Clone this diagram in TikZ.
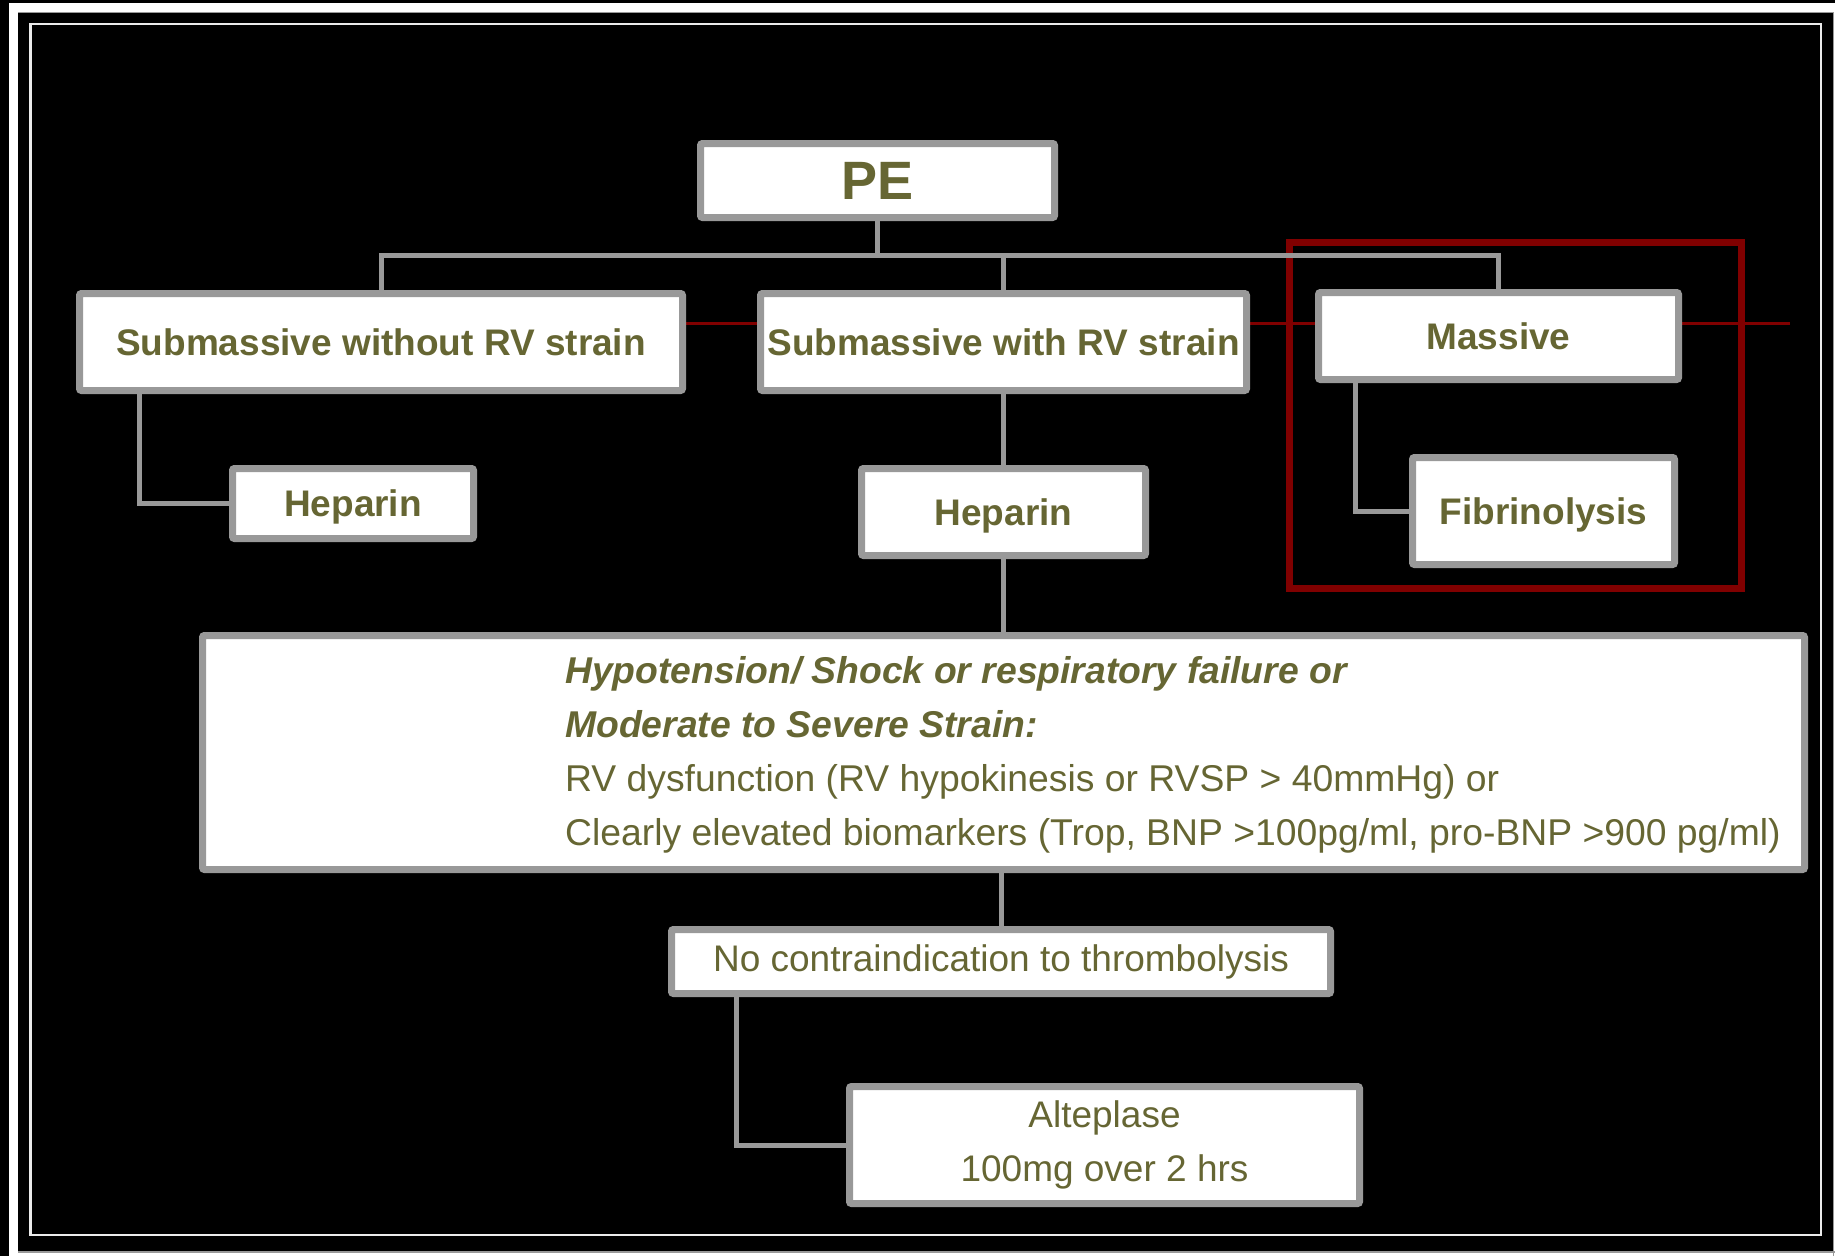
\documentclass[tikz,border=0pt]{standalone}
\usepackage{fontspec}
\setmainfont{Liberation Sans}
\usetikzlibrary{backgrounds}
\definecolor{olivetxt}{RGB}{102,102,51}
\definecolor{boxgray}{RGB}{153,153,153}
\definecolor{framered}{RGB}{128,0,0}
\definecolor{framewhite}{RGB}{235,235,235}
\begin{document}
\begin{tikzpicture}[x=1pt,y=-1pt,
  box/.style={draw=boxgray, line width=7pt, fill=white, rounded corners=2pt,
    inner sep=0pt, text=olivetxt, align=center,
    font=\fontsize{37}{54}\selectfont},
  boldbox/.style={box, font=\fontsize{37}{54}\selectfont\bfseries},
  conn/.style={draw=boxgray, line width=5pt},
  txt/.style={inner sep=0pt, text=olivetxt, align=left,
    font=\fontsize{37.3}{54}\selectfont}]
\useasboundingbox (0,0) rectangle (1835,1256);

% boxes
\node[boldbox, minimum width=354pt, minimum height=74pt, font=\fontsize{54}{60}\selectfont\bfseries] (pe) at (877.5,180.5) {PE};
\node[boldbox, minimum width=603pt, minimum height=97pt] (subwo) at (381,342) {Submassive without RV strain};
\node[boldbox, minimum width=486pt, minimum height=97pt] (subw) at (1003.5,342) {Submassive with RV strain};
\node[boldbox, minimum width=360pt, minimum height=87pt] (massive) at (1498.5,336) {Massive};
\node[boldbox, minimum width=241pt, minimum height=70pt, text depth=0.05em] (hep1) at (353,503.5) {Heparin};
\node[boldbox, minimum width=284pt, minimum height=87pt, text depth=0.05em] (hep2) at (1003.5,512) {Heparin};
\node[boldbox, minimum width=262pt, minimum height=107pt, text depth=0.05em] (fib) at (1543.5,511) {Fibrinolysis};
\node[box, minimum width=1602pt, minimum height=234pt] (big) at (1003.5,752.5) {};
\node[txt, anchor=west] (bigtxt) at (565,754.5) {{\bfseries\itshape Hypotension/ Shock or respiratory failure or}\\
{\bfseries\itshape Moderate to Severe Strain:}\\
RV dysfunction (RV hypokinesis or RVSP > 40mmHg) or\\
Clearly elevated biomarkers (Trop, BNP >100pg/ml, pro-BNP >900 pg/ml)};
\node[box, minimum width=659pt, minimum height=64pt] (nocontra) at (1001,961.5) {No contraindication to thrombolysis};
\node[box, minimum width=510pt, minimum height=117pt] (alte) at (1104.5,1145) {Alteplase\\100mg over 2 hrs};

\coordinate (bar) at (0,255);
\coordinate (redend) at (1790,323);

% connectors
\draw[conn] (pe.south) -- (pe.south |- bar);
\draw[conn] (subwo.north) -- (subwo.north |- bar) -| (massive.north);
\draw[conn] (subw.north) -- (subw.north |- bar);
\draw[conn] ([xshift=63pt]subwo.south west) |- (hep1.west);
\draw[conn] (subw.south) -- (hep2.north);
\draw[conn] (hep2.south) -- (big.north);
\draw[conn] ([xshift=40pt]massive.south west) |- (fib.west);
\draw[conn] (nocontra.north |- big.south) -- (nocontra.north);
\draw[conn] ([xshift=68pt]nocontra.south west) |- (alte.west);

\begin{pgfonlayer}{background}
  \fill[black] (0,0) rectangle (1835,1256);
  \fill[white] (9,3) rectangle (1835,1256);
  \fill[black] (18,12) rectangle (1832.5,1251);
  \draw[boxgray, line width=1.5pt] (18,1251.8) -- (1835,1251.8);
  \draw[boxgray, line width=1.5pt] (1833.3,12) -- (1833.3,1256);
  \draw[boxgray, line width=1pt] (18,12.5) -- (1832.5,12.5);
  \draw[framewhite, line width=2.5pt] (30.5,24) rectangle (1821,1235);
  \draw[framered, line width=3pt] (subwo.east |- redend) -- (redend);
  \draw[framered, line width=7pt] (1289.5,242.5) rectangle (1741.5,588.5);
\end{pgfonlayer}
\end{tikzpicture}
\end{document}
